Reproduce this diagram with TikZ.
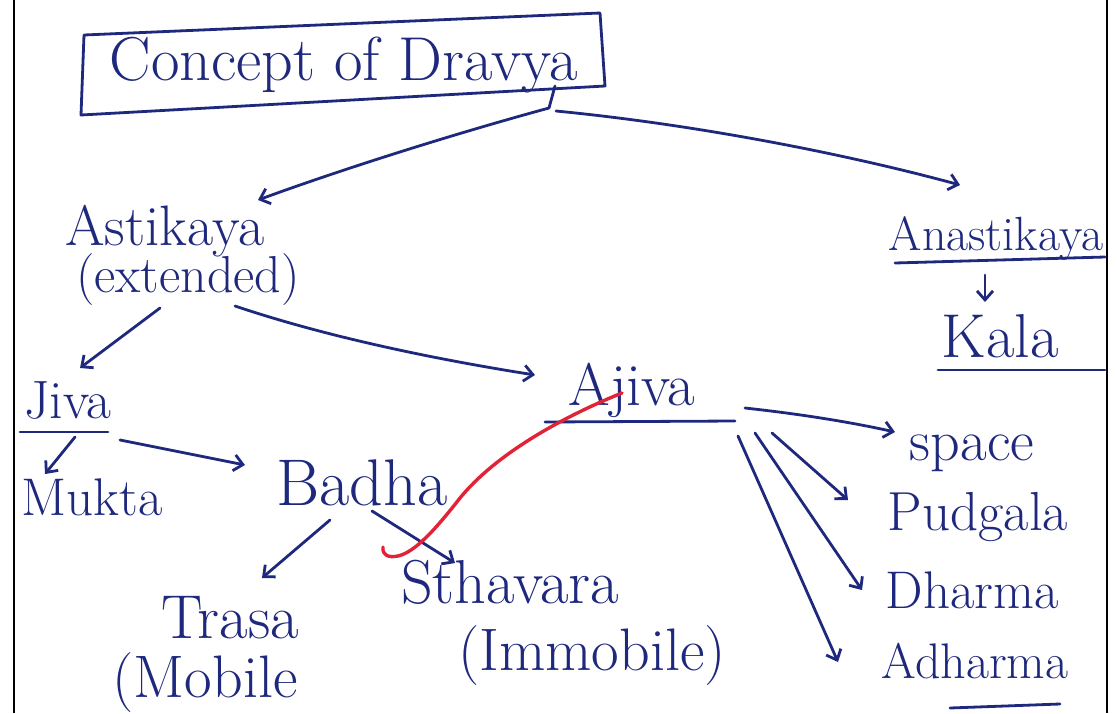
\documentclass[tikz,border=0pt]{standalone}
\usetikzlibrary{arrows.meta}
\definecolor{ink}{RGB}{30,40,125}
\definecolor{redink}{RGB}{225,35,55}
\begin{document}
\begin{tikzpicture}[x=1pt,y=-1pt,
  lbl/.style={inner sep=0pt, text=ink, anchor=base},
  fs/.style={font=\fontsize{#1}{#1}\selectfont},
  pen/.style={draw=ink, line width=2.8pt, line cap=round, line join=round},
  arr/.style={pen, -{Straight Barb[length=9pt,width=16pt,line width=2.8pt]}},
  frameline/.style={draw=black, line width=2.6pt}]
\useasboundingbox (0,0) rectangle (1117,713);
\fill[white] (0,0) rectangle (1117,713);
% page frame
\draw[frameline] (14,0) -- (14,713);
\draw[frameline] (1107,0) -- (1107,713);
% title box
\node[lbl,fs=62] (title) at (344,80) {Concept of Dravya};
\draw[pen] (84,35) -- (600,13) -- (605,86) -- (81,115) -- cycle;
% labels
\node[lbl,fs=57] (ast) at (165,245) {Astikaya};
\node[lbl,fs=52] (ext) at (188,292) {(extended)};
\node[lbl,fs=54] (jiva) at (68,418) {Jiva};
\node[lbl,fs=53] (mukta) at (92,515) {Mukta};
\node[lbl,fs=66] (badha) at (362,505) {Badha};
\node[lbl,fs=62] (trasa) at (230,638) {Trasa};
\node[lbl,fs=60] (mobile) at (205,697) {(Mobile};
\node[lbl,fs=62] (sthavara) at (510,603) {Sthavara};
\node[lbl,fs=60] (immobile) at (592,670) {(Immobile)};
\node[lbl,fs=60] (ajiva) at (632,405) {Ajiva};
\node[lbl,fs=48] (anast) at (996,250) {Anastikaya};
\node[lbl,fs=62] (kala) at (1000,357) {Kala};
\node[lbl,fs=58] (space) at (972,460) {space};
\node[lbl,fs=55] (pudgala) at (978,530) {Pudgala};
\node[lbl,fs=53] (dharma) at (972,608) {Dharma};
\node[lbl,fs=50] (adharma) at (975,678) {Adharma};
% underlines
\draw[pen] (20,432) -- (108,432);
\draw[pen] (545,422) -- (735,421);
\draw[pen] (895,263) -- (1105,257);
\draw[pen] (938,370) -- (1105,370);
\draw[pen] (950,708) -- (1060,704);
% connector coordinates
\coordinate (tb) at (555,86);
\coordinate (fork) at (549,108);
\coordinate (forkr) at (556,111);
\coordinate (astT) at (258,200);
\coordinate (anaT) at (960,185);
\coordinate (extS1) at (160,308);
\coordinate (jivaT) at (80,368);
\coordinate (extS2) at (235,306);
\coordinate (ajivaT) at (535,375);
\coordinate (jivaU) at (75,437);
\coordinate (muktaT) at (45,474);
\coordinate (jivaR) at (120,440);
\coordinate (badhaT) at (245,465);
\coordinate (badhaS1) at (330,520);
\coordinate (trasaT) at (262,578);
\coordinate (badhaS2) at (372,511);
\coordinate (sthT) at (455,563);
\coordinate (ajR1) at (745,408);
\coordinate (spaceT) at (895,432);
\coordinate (ajR2) at (772,433);
\coordinate (pudT) at (848,500);
\coordinate (ajR3) at (755,433);
\coordinate (dhT) at (862,590);
\coordinate (ajR4) at (738,436);
\coordinate (adhT) at (838,662);
\coordinate (anaS) at (985,275);
\coordinate (kalaT) at (985,302);
% connectors
\draw[pen] (tb) -- (fork);
\draw[arr] (fork) .. controls (450,135) and (340,170) .. (astT);
\draw[arr] (forkr) .. controls (700,125) and (850,155) .. (anaT);
\draw[arr] (extS1) -- (jivaT);
\draw[arr] (extS2) .. controls (330,338) and (440,360) .. (ajivaT);
\draw[arr] (jivaU) -- (muktaT);
\draw[arr] (jivaR) -- (badhaT);
\draw[arr] (badhaS1) -- (trasaT);
\draw[arr] (badhaS2) -- (sthT);
\draw[arr] (ajR1) .. controls (800,414) and (850,422) .. (spaceT);
\draw[arr] (ajR2) -- (pudT);
\draw[arr] (ajR3) -- (dhT);
\draw[arr] (ajR4) -- (adhT);
\draw[arr] (anaS) -- (kalaT);
% red annotation stroke
\draw[draw=redink, line width=3.4pt, line cap=round, line join=round]
  (622,393) .. controls (560,418) and (495,455) .. (460,498)
  .. controls (435,530) and (415,552) .. (398,556)
  .. controls (388,558) and (382,555) .. (383,547);
\end{tikzpicture}
\end{document}
